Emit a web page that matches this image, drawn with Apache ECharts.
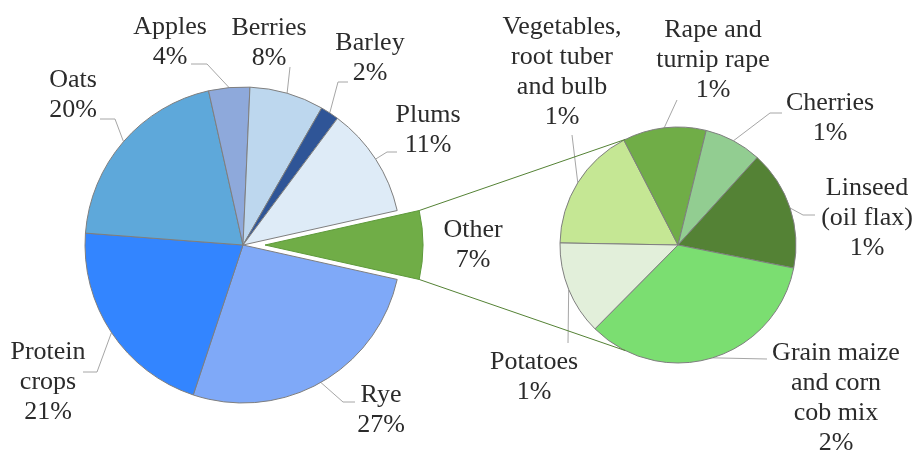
<!DOCTYPE html>
<html>
<head>
<meta charset="utf-8">
<script src="https://cdn.jsdelivr.net/npm/echarts@6/dist/echarts.min.js"></script>
<style>
  html, body { margin: 0; padding: 0; background: #fff; }
  #chart { width: 915px; height: 451px; }
</style>
</head>
<body>
<div id="chart"></div>
<script>
// main pie (share of total, %)
const mainNames = ['Rye', 'Protein\ncrops', 'Oats', 'Apples', 'Berries', 'Barley', 'Plums'];
const mainValues = [26.6, 21.1, 20.3, 4.2, 7.6, 1.9, 11.3];
// split into the second pie
const otherLabel = 'Other';
const otherNames = ['Vegetables,\nroot tuber\nand bulb', 'Rape and\nturnip rape', 'Cherries', 'Linseed\n(oil flax)', 'Grain maize\nand corn\ncob mix', 'Potatoes'];
const otherValues = [1.2, 0.8, 0.55, 1.15, 2.4, 0.9];

const mainColors = ['#70AD47', '#7FA9F8', '#3385FF', '#5EA8DA', '#8EA9DB', '#BDD7EE', '#2F5597', '#DEEBF7'];
const otherColors = ['#C5E794', '#70AD47', '#92CD91', '#548235', '#7BDE71', '#E2EFDA'];

const sum = a => a.reduce((s, v) => s + v, 0);
const otherSum = sum(otherValues);
const total = sum(mainValues) + otherSum;
const pct = v => Math.round(v / total * 100) + '%';

// geometry
const c1 = [243, 245], r1 = 158, explode = 22;
const c2 = [678, 245], r2 = 118;
const start1 = otherSum / total * 180;   // centre the Other slice on 3 o'clock
const start2 = 179;

// label placement (text centre) and leader line bends
const mainSpots = [
  { pos: [464, 247] },
  { pos: [381, 410], line: [[343, 402], [355, 402]] },
  { pos: [48, 382], line: [[97, 372], [83, 372]] },
  { pos: [73, 95], line: [[115, 119], [100, 119]] },
  { pos: [170, 42], line: [[207, 64], [191, 64]] },
  { pos: [269, 43], line: [[290, 67]] },
  { pos: [370, 58], line: [[338, 82], [348, 82]] },
  { pos: [428, 130], line: [[387, 152], [397, 152]] }
];
const otherSpots = [
  { pos: [562, 72], line: [[572, 135]] },
  { pos: [713, 60], line: [[677, 100]] },
  { pos: [830, 118], line: [[770, 113], [782, 113]] },
  { pos: [867, 218], line: [[803, 215], [815, 215]] },
  { pos: [836, 398], line: [[767, 359]] },
  { pos: [534, 377], line: [[568, 343]] }
];

// mid angle of each slice in screen radians (clockwise from 3 o'clock)
function mids(values, startDeg) {
  const t = sum(values);
  let acc = -startDeg;
  return values.map(v => {
    const span = v / t * 360;
    const m = acc + span / 2;
    acc += span;
    return m * Math.PI / 180;
  });
}

const mainData = [{ name: otherLabel, value: otherSum, selected: true, labelLine: { show: false } }]
  .concat(mainNames.map((n, i) => ({ name: n, value: mainValues[i] })));
const otherData = otherNames.map((n, i) => ({ name: n, value: otherValues[i] }));

const mainMids = mids(mainData.map(d => d.value), start1);
const otherMids = mids(otherValues, start2);

function layoutFor(spots, midList, c, r) {
  return params => {
    const s = spots[params.dataIndex];
    const out = { x: s.pos[0], y: s.pos[1], align: 'center', verticalAlign: 'middle' };
    if (s.line) {
      const a = midList[params.dataIndex];
      const edge = [c[0] + r * Math.cos(a), c[1] + r * Math.sin(a)];
      out.labelLinePoints = [edge].concat(s.line);
    }
    return out;
  };
}

function makeLabel() {
  return {
    show: true,
    position: 'outside',
    overflow: 'none',
    fontFamily: 'Liberation Serif',
    fontSize: 26,
    lineHeight: 30,
    color: '#2b2b2b',
    formatter: p => p.name + '\n' + pct(p.value)
  };
}
function makeLine() {
  return { show: true, lineStyle: { color: '#A6A6A6', width: 1 } };
}

// connector lines between the Other slice and the second pie
const half = otherSum / total * Math.PI;
const oc = [c1[0] + explode, c1[1]];
const p1 = [oc[0] + r1 * Math.cos(-half), oc[1] + r1 * Math.sin(-half)];
const p2 = [oc[0] + r1 * Math.cos(half), oc[1] + r1 * Math.sin(half)];
const q1a = (180 + 63.5) * Math.PI / 180, q2a = (180 - 63.5) * Math.PI / 180;
const q1 = [c2[0] + r2 * Math.cos(q1a), c2[1] + r2 * Math.sin(q1a)];
const q2 = [c2[0] + r2 * Math.cos(q2a), c2[1] + r2 * Math.sin(q2a)];

const chart = echarts.init(document.getElementById('chart'));
chart.setOption({
  animation: false,
  backgroundColor: '#fff',
  graphic: [
    { type: 'line', z: 10, shape: { x1: p1[0], y1: p1[1], x2: q1[0], y2: q1[1] }, style: { stroke: '#548235', lineWidth: 1 } },
    { type: 'line', z: 10, shape: { x1: p2[0], y1: p2[1], x2: q2[0], y2: q2[1] }, style: { stroke: '#548235', lineWidth: 1 } }
  ],
  series: [
    {
      type: 'pie',
      center: c1,
      radius: r1,
      startAngle: start1,
      selectedMode: 'single',
      selectedOffset: explode,
      avoidLabelOverlap: false,
      silent: true,
      emphasis: { disabled: true },
      color: mainColors,
      itemStyle: { borderColor: '#7F7F7F', borderWidth: 1 },
      select: { itemStyle: { borderColor: '#5E9A3B', borderWidth: 1 } },
      label: makeLabel(),
      labelLine: makeLine(),
      labelLayout: layoutFor(mainSpots, mainMids, c1, r1),
      data: mainData
    },
    {
      type: 'pie',
      center: c2,
      radius: r2,
      startAngle: start2,
      avoidLabelOverlap: false,
      silent: true,
      emphasis: { disabled: true },
      color: otherColors,
      itemStyle: { borderColor: '#7F7F7F', borderWidth: 1 },
      label: makeLabel(),
      labelLine: makeLine(),
      labelLayout: layoutFor(otherSpots, otherMids, c2, r2),
      data: otherData
    }
  ]
});
</script>
</body>
</html>
